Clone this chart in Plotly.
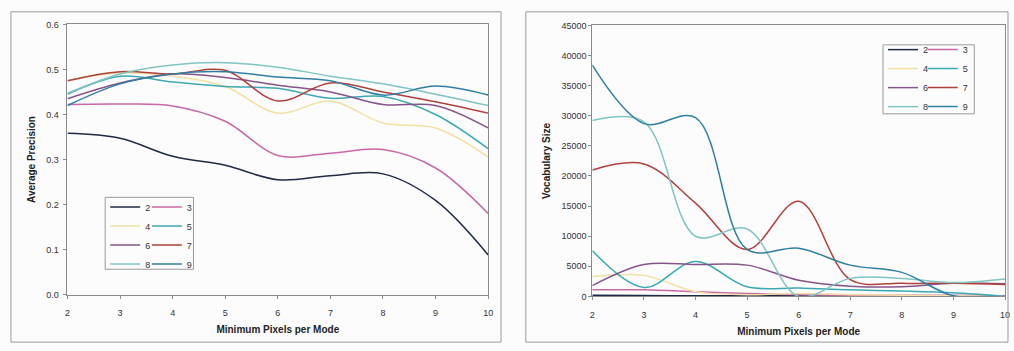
import plotly.graph_objects as go

x_vals = [2, 3, 4, 5, 6, 7, 8, 9, 10]
series_names = ["2", "3", "4", "5", "6", "7", "8", "9"]

# Average precision (left chart)
ap_2 = [0.358, 0.347, 0.307, 0.287, 0.255, 0.264, 0.268, 0.209, 0.088]
ap_3 = [0.422, 0.423, 0.419, 0.385, 0.309, 0.314, 0.322, 0.281, 0.180]
ap_4 = [0.475, 0.492, 0.485, 0.462, 0.403, 0.430, 0.381, 0.370, 0.306]
ap_5 = [0.445, 0.485, 0.472, 0.462, 0.458, 0.436, 0.440, 0.400, 0.324]
ap_6 = [0.435, 0.470, 0.490, 0.482, 0.465, 0.450, 0.422, 0.420, 0.370]
ap_7 = [0.475, 0.495, 0.490, 0.498, 0.430, 0.470, 0.450, 0.428, 0.403]
ap_8 = [0.447, 0.490, 0.510, 0.515, 0.505, 0.485, 0.468, 0.445, 0.420]
ap_9 = [0.420, 0.468, 0.490, 0.495, 0.483, 0.475, 0.443, 0.463, 0.443]

# Vocabulary size (right chart)
vs_2 = [200, 150, 100, 100, 100, 50, 50, 50, 0]
vs_3 = [1100, 1100, 800, 500, 300, 200, 200, 200, 100]
vs_4 = [3300, 3500, 800, 300, 500, 300, 200, 100, 0]
vs_5 = [7600, 1500, 5800, 1600, 1400, 1100, 900, 600, 0]
vs_6 = [1800, 5300, 5300, 5200, 2700, 1700, 1600, 2200, 2100]
vs_7 = [21000, 22000, 15500, 7800, 15800, 2800, 2200, 2200, 2000]
vs_8 = [29200, 29000, 10000, 11200, 0, 3000, 3000, 2300, 2900]
vs_9 = [38400, 28700, 29700, 7800, 8000, 5200, 4000, 100, 0]

ap_data = [ap_2, ap_3, ap_4, ap_5, ap_6, ap_7, ap_8, ap_9]
vs_data = [vs_2, vs_3, vs_4, vs_5, vs_6, vs_7, vs_8, vs_9]

colors = ["#1f2a45", "#c868a6", "#f2e0a4", "#3aa9b4",
          "#86548a", "#b0403a", "#80c4c4", "#2f7fa5"]

W, H = 1014, 351

def px_x(p):
    return p / W

def px_y(p):
    return 1 - p / H

fig = go.Figure()

for i, name in enumerate(series_names):
    leg = "legend" if i % 2 == 0 else "legend2"
    fig.add_trace(go.Scatter(
        x=x_vals, y=ap_data[i], name=name, mode="lines",
        line=dict(color=colors[i], width=1.5, shape="spline", smoothing=1.0),
        xaxis="x", yaxis="y", legend=leg))

for i, name in enumerate(series_names):
    leg = "legend3" if i % 2 == 0 else "legend4"
    fig.add_trace(go.Scatter(
        x=x_vals, y=vs_data[i], name=name, mode="lines",
        line=dict(color=colors[i], width=1.5, shape="spline", smoothing=1.0),
        xaxis="x2", yaxis="y2", legend=leg))

tick_font = dict(family="Liberation Sans, Arial", size=9, color="#333333")
title_font = dict(family="Liberation Sans, Arial", size=10, color="#222222")

axis_common = dict(showgrid=False, zeroline=False, showline=True,
                   linecolor="#8a8a8a", linewidth=1, mirror=True,
                   ticks="outside", ticklen=3, tickcolor="#8a8a8a",
                   tickfont=tick_font)

leg_font = dict(family="Liberation Sans, Arial", size=9, color="#333333")

def legend_cfg(xpx, ypx):
    return dict(x=px_x(xpx), y=px_y(ypx), xanchor="left", yanchor="top",
                bgcolor="rgba(0,0,0,0)", borderwidth=0, font=leg_font,
                itemwidth=30, tracegroupgap=0)

fig.update_layout(
    width=W, height=H,
    margin=dict(l=0, r=0, t=0, b=0),
    paper_bgcolor="#fcfcfc", plot_bgcolor="#fcfcfc",
    xaxis=dict(domain=[px_x(65), px_x(489)], range=[2, 10], dtick=1,
               anchor="y", ticklabelstandoff=7,
               title=dict(text="<b>Minimum Pixels per Mode</b>",
                          font=title_font, standoff=8),
               **axis_common),
    yaxis=dict(domain=[px_y(298), px_y(20)], range=[0, 0.6], dtick=0.1,
               tickformat=".1f", anchor="x", ticklabelstandoff=3,
               title=dict(text="<b>Average Precision</b>", font=title_font,
                          standoff=8),
               **axis_common),
    xaxis2=dict(domain=[px_x(594), px_x(1010)], range=[2, 10], dtick=1,
                anchor="y2", ticklabelstandoff=7,
                title=dict(text="<b>Minimum Pixels per Mode</b>",
                           font=title_font, standoff=8),
                **axis_common),
    yaxis2=dict(domain=[px_y(300), px_y(21)], range=[0, 45000], dtick=5000,
                tickformat="d", anchor="x2",
                title=dict(text="<b>Vocabulary Size</b>", font=title_font,
                           standoff=8),
                **axis_common),
    legend=legend_cfg(103, 193),
    legend2=legend_cfg(145, 193),
    legend3=legend_cfg(887, 31),
    legend4=legend_cfg(927, 31),
    showlegend=True,
    shapes=[
        dict(type="rect", xref="paper", yref="paper",
             x0=px_x(8), x1=px_x(502), y0=px_y(347), y1=px_y(7),
             line=dict(color="#9a9a9a", width=1)),
        dict(type="rect", xref="paper", yref="paper",
             x0=px_x(527), x1=px_x(1013), y0=px_y(347), y1=px_y(7),
             line=dict(color="#9a9a9a", width=1)),
        dict(type="rect", xref="paper", yref="paper",
             x0=px_x(103), x1=px_x(192), y0=px_y(272), y1=px_y(198),
             line=dict(color="#9a9a9a", width=1)),
        dict(type="rect", xref="paper", yref="paper",
             x0=px_x(887), x1=px_x(979), y0=px_y(112), y1=px_y(41),
             line=dict(color="#9a9a9a", width=1)),
    ],
)

fig.write_html("out.html")
